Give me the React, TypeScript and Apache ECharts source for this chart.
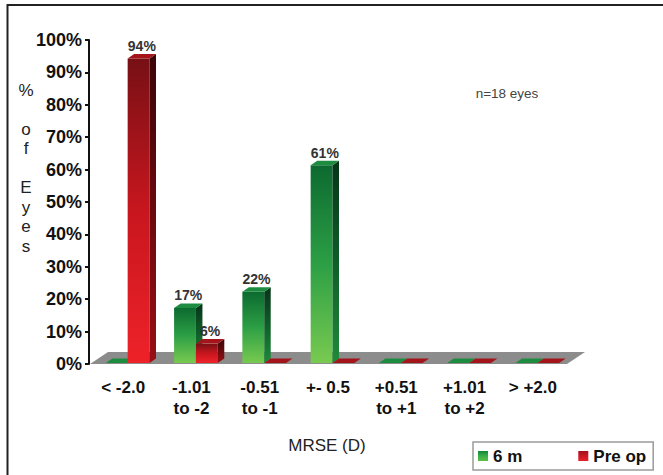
import React, { useEffect, useRef } from "react";
import * as echarts from "echarts";

// Refraction bins (manifest refraction spherical equivalent, dioptres)
const categories = [
  "< -2.0",
  "-1.01\nto -2",
  "-0.51\nto -1",
  "+- 0.5",
  "+0.51\nto +1",
  "+1.01\nto +2",
  "> +2.0",
];
// Percentage of eyes per bin
const sixMonths = [0, 17, 22, 61, 0, 0, 0];
const preOp = [94, 6, 0, 0, 0, 0, 0];
const seriesNames = ["6 m", "Pre op"];

const FONT = "Arial, 'Liberation Sans', Helvetica, sans-serif";

type Palette = {
  front: [string, string, string];
  side: [string, string, string];
  top: string;
};

const greenPalette: Palette = {
  front: ["#0c6a30", "#2c9f45", "#78ca50"],
  side: ["#063419", "#0f5e28", "#1f8a3a"],
  top: "#1d8c40",
};
const redPalette: Palette = {
  front: ["#761015", "#c8161e", "#ee2229"],
  side: ["#3a0507", "#6a0a0e", "#980f15"],
  top: "#a3151b",
};

const vGrad = (a: string, m: string, b: string) =>
  new echarts.graphic.LinearGradient(0, 0, 0, 1, [
    { offset: 0, color: a },
    { offset: 0.5, color: m },
    { offset: 1, color: b },
  ]);

// Draws one pseudo-3D column: front face, side face, top face and value label.
function makeBarRenderer(slot: number, pal: Palette) {
  return (_params: any, api: any) => {
    const cat = api.value(0);
    const val = api.value(1);
    const base = api.coord([cat, 0]);
    const top = api.coord([cat, val]);
    const band = api.size([1, 0])[0];
    const w = band * 0.32;
    const shift = band * 0.066;
    const x = base[0] + shift + (slot === 0 ? -w : 0);
    const yb = base[1] - 1;
    const yt = top[1] - 1;
    const dx = 6.5;
    const dy = 4.5;
    const children: any[] = [];
    if (val > 0) {
      children.push({
        type: "rect",
        shape: { x, y: yt, width: w, height: yb - yt },
        style: { fill: vGrad(pal.front[0], pal.front[1], pal.front[2]) },
      });
      children.push({
        type: "polygon",
        shape: {
          points: [
            [x + w, yt],
            [x + w + dx, yt - dy],
            [x + w + dx, yb - dy],
            [x + w, yb],
          ],
        },
        style: { fill: vGrad(pal.side[0], pal.side[1], pal.side[2]) },
      });
    }
    children.push({
      type: "polygon",
      shape: {
        points: [
          [x, yt],
          [x + dx, yt - dy],
          [x + w + dx, yt - dy],
          [x + w, yt],
        ],
      },
      style: { fill: pal.top },
    });
    if (val > 0) {
      children.push({
        type: "text",
        x: x + w / 2 + dx / 2,
        y: yt - dy - 1,
        style: {
          text: `${val}%`,
          font: `bold 14px ${FONT}`,
          fill: "#333333",
          align: "center",
          verticalAlign: "bottom",
        },
      });
    }
    return { type: "group", children };
  };
}

// Grey floor under all categories
function floorRenderer(_params: any, api: any) {
  const band = api.size([1, 0])[0];
  const first = api.coord([0, 0]);
  const last = api.coord([categories.length - 1, 0]);
  const left = first[0] - band / 2 + 1;
  const right = last[0] + band / 2;
  const y = first[1];
  const dx = 18;
  const dy = 12;
  return {
    type: "polygon",
    shape: {
      points: [
        [left, y],
        [right, y],
        [right + dx, y - dy],
        [left + dx, y - dy],
      ],
    },
    style: { fill: "#8c8c8c" },
  };
}

export default function App() {
  const ref = useRef<HTMLDivElement>(null);

  useEffect(() => {
    if (!ref.current) return;
    const chart = echarts.init(ref.current, null, { renderer: "svg" });
    chart.setOption({
      animation: false,
      backgroundColor: "#ffffff",
      grid: { left: 89, right: 96, top: 40, bottom: 111, containLabel: false },
      xAxis: {
        type: "category",
        data: categories,
        axisLine: { show: false },
        axisTick: { show: false },
        axisLabel: {
          interval: 0,
          margin: 13,
          color: "#111111",
          fontFamily: FONT,
          fontWeight: "bold",
          fontSize: 17,
          lineHeight: 21,
        },
      },
      yAxis: {
        type: "value",
        min: 0,
        max: 100,
        interval: 10,
        splitLine: { show: false },
        axisLine: { show: true, lineStyle: { color: "#111111", width: 2 } },
        axisTick: { show: true, length: 4, lineStyle: { color: "#111111", width: 2 } },
        axisLabel: {
          formatter: "{value}%",
          margin: 7,
          color: "#111111",
          fontFamily: FONT,
          fontWeight: "bold",
          fontSize: 18,
        },
      },
      legend: {
        data: seriesNames,
        left: 473,
        top: 442,
        orient: "horizontal",
        icon: "rect",
        itemWidth: 10,
        itemHeight: 10,
        itemGap: 56,
        padding: [4, 7, 4, 5],
        borderColor: "#9a9a9a",
        borderWidth: 1.5,
        textStyle: {
          fontFamily: FONT,
          fontWeight: "bold",
          fontSize: 17,
          color: "#111111",
          lineHeight: 20,
        },
      },
      graphic: [
        {
          type: "rect",
          shape: { x: 7.5, y: 5, width: 700, height: 500 },
          style: { fill: "none", stroke: "#222222", lineWidth: 2 },
          silent: true,
        },
        {
          type: "text",
          x: 26,
          y: 168,
          style: {
            text: "%\n\no\nf\n\nE\ny\ne\ns",
            font: `17px ${FONT}`,
            lineHeight: 19.5,
            fill: "#222222",
            align: "center",
            verticalAlign: "middle",
          },
        },
        {
          type: "text",
          x: 327,
          y: 445,
          style: {
            text: "MRSE (D)",
            font: `17px ${FONT}`,
            fill: "#222222",
            align: "center",
            verticalAlign: "middle",
          },
        },
        {
          type: "text",
          x: 507,
          y: 93,
          style: {
            text: "n=18 eyes",
            font: `13.5px ${FONT}`,
            fill: "#444444",
            align: "center",
            verticalAlign: "middle",
          },
        },
      ],
      series: [
        {
          name: "floor",
          type: "custom",
          clip: false,
          silent: true,
          z: 1,
          data: [[0, 0]],
          renderItem: floorRenderer,
        },
        {
          name: seriesNames[0],
          type: "custom",
          clip: false,
          z: 2,
          itemStyle: { color: vGrad("#14843a", "#3aae4a", "#5cc046") },
          encode: { x: 0, y: 1 },
          data: sixMonths.map((v, i) => [i, v]),
          renderItem: makeBarRenderer(0, greenPalette),
        },
        {
          name: seriesNames[1],
          type: "custom",
          clip: false,
          z: 3,
          itemStyle: { color: vGrad("#a0121a", "#cc1820", "#e8202a") },
          encode: { x: 0, y: 1 },
          data: preOp.map((v, i) => [i, v]),
          renderItem: makeBarRenderer(1, redPalette),
        },
      ],
    });
    return () => chart.dispose();
  }, []);

  return (
    <div
      ref={ref}
      style={{ position: "fixed", left: 0, top: 0, width: 663, height: 475 }}
    />
  );
}
